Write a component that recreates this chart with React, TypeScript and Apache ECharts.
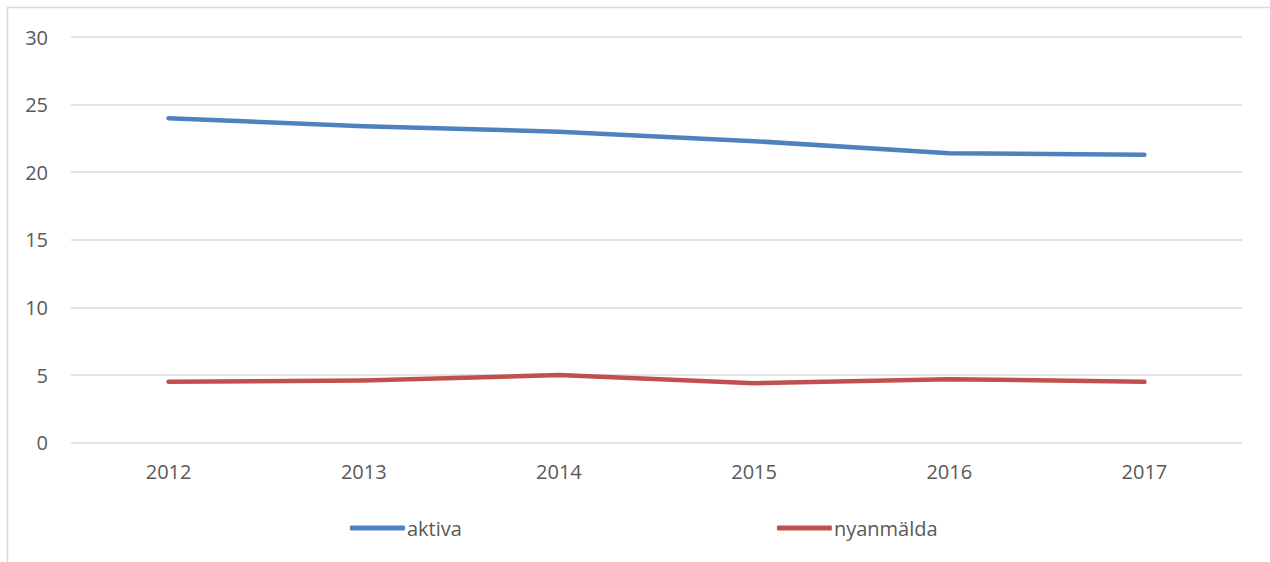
import React, { useEffect, useRef } from "react";
import * as echarts from "echarts";

const categories = ["2012", "2013", "2014", "2015", "2016", "2017"];
const aktiva = [24.0, 23.4, 23.0, 22.3, 21.4, 21.3];
const nyanmalda = [4.5, 4.6, 5.0, 4.4, 4.7, 4.5];
const seriesNames = ["aktiva", "nyanmälda"];
const colors = ["#4f81bd", "#c0504d"];

export default function App() {
  const ref = useRef<HTMLDivElement>(null);
  useEffect(() => {
    if (!ref.current) return;
    const chart = echarts.init(ref.current, undefined, { renderer: "svg" });
    const font = "'Open Sans', sans-serif";
    chart.setOption({
      animation: false,
      backgroundColor: "#ffffff",
      graphic: [
        {
          type: "rect",
          shape: { x: 7.5, y: 7.5, width: 1300, height: 600 },
          style: { fill: "none", stroke: "#d9d9d9", lineWidth: 1.5 },
          silent: true,
        },
      ],
      grid: { left: 71, right: 28, top: 37, bottom: 119.3, containLabel: false },
      legend: {
        left: 345,
        top: 513,
        itemWidth: 55,
        itemHeight: 5,
        itemGap: 315,
        icon: "roundRect",
        textStyle: { color: "#595959", fontSize: 20, fontFamily: font, padding: [0, 0, 0, -3] },
        data: seriesNames,
      },
      xAxis: {
        type: "category",
        data: categories,
        boundaryGap: true,
        axisLine: { show: false },
        axisTick: { show: false },
        axisLabel: { color: "#595959", fontSize: 20, fontFamily: font, margin: 19 },
      },
      yAxis: {
        type: "value",
        min: 0,
        max: 30,
        interval: 5,
        axisLine: { show: false },
        axisTick: { show: false },
        splitLine: { lineStyle: { color: "#d9d9d9", width: 1.5 } },
        axisLabel: { color: "#595959", fontSize: 20, fontFamily: font, margin: 23 },
      },
      series: [
        {
          name: seriesNames[0],
          type: "line",
          data: aktiva,
          symbol: "none",
          color: colors[0],
          lineStyle: { width: 4.5, cap: "round", join: "round" },
        },
        {
          name: seriesNames[1],
          type: "line",
          data: nyanmalda,
          symbol: "none",
          color: colors[1],
          lineStyle: { width: 4.5, cap: "round", join: "round" },
        },
      ],
    });
    return () => chart.dispose();
  }, []);
  return (
    <div
      ref={ref}
      style={{ position: "fixed", left: 0, top: 0, width: 1270, height: 562 }}
    />
  );
}
